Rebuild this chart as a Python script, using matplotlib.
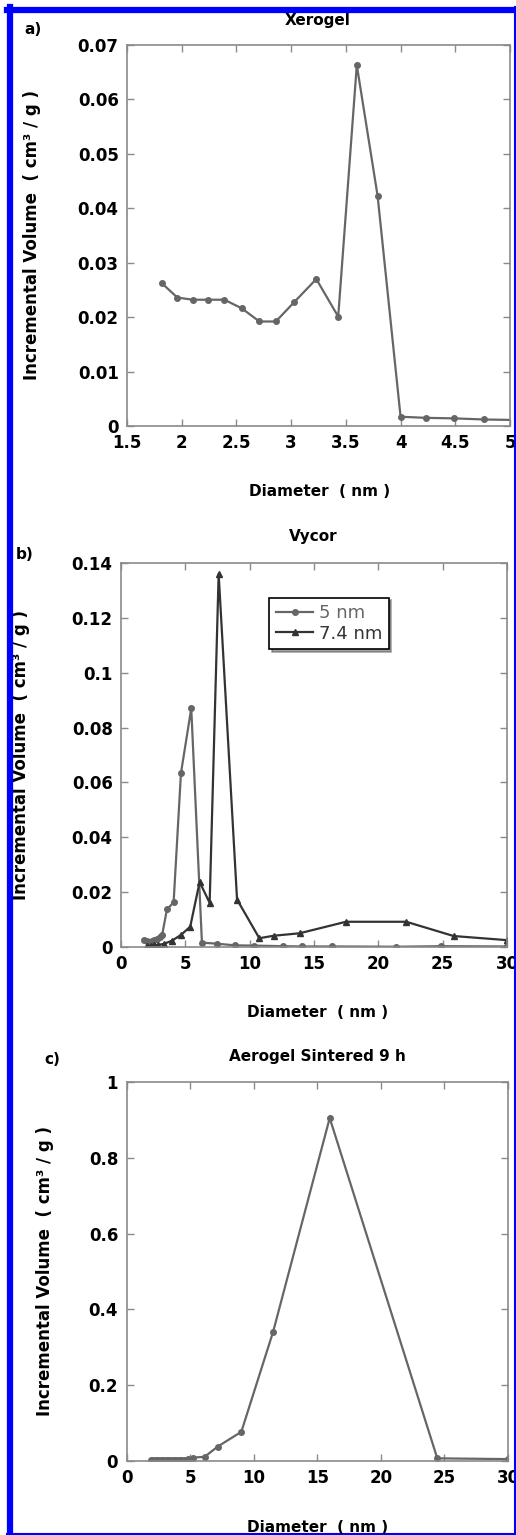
import matplotlib
matplotlib.use("Agg")
import matplotlib.pyplot as plt
from matplotlib.lines import Line2D
from matplotlib.ticker import FuncFormatter

# a) Xerogel
xero_d = [1.82, 1.96, 2.10, 2.24, 2.39, 2.55, 2.71, 2.86, 3.03, 3.23, 3.43, 3.60,
          3.79, 4.00, 4.23, 4.49, 4.76, 5.05]
xero_v = [0.0262, 0.0236, 0.0232, 0.0232, 0.0232, 0.0216, 0.0192, 0.0192, 0.0228,
          0.0270, 0.0201, 0.0663, 0.0423, 0.0017, 0.0015, 0.0014, 0.0012, 0.0011]

# b) Vycor
vy5_d = [1.8, 2.0, 2.2, 2.4, 2.6, 2.8, 3.0, 3.2, 3.57, 4.09, 4.66, 5.46, 6.29, 7.46,
         8.88, 10.36, 12.6, 14.1, 16.4, 21.4, 24.9, 30.0]
vy5_v = [0.0025, 0.0022, 0.0020, 0.0022, 0.0025, 0.0030, 0.0035, 0.0045, 0.0137,
         0.0163, 0.0634, 0.0870, 0.0016, 0.0012, 0.0006, 0.0005, 0.0003, 0.0002,
         0.0002, 0.0001, 0.0003, 0.0002]
vy74_d = [2.0, 2.3, 2.6, 2.9, 3.31, 3.96, 4.66, 5.38, 6.11, 6.89, 7.59, 9.02, 10.75,
          11.86, 13.88, 17.48, 22.17, 25.85, 30.0]
vy74_v = [0.0003, 0.0004, 0.0006, 0.0008, 0.0011, 0.0023, 0.0044, 0.0074, 0.0237,
          0.0161, 0.1360, 0.0173, 0.0032, 0.0041, 0.0050, 0.0092, 0.0092, 0.0040,
          0.0025]

# c) Aerogel sintered 9 h
aero_d = [1.9, 2.1, 2.3, 2.5, 2.7, 2.9, 3.1, 3.3, 3.5, 3.7, 3.9, 4.1, 4.3, 4.5, 4.8,
          5.23, 6.14, 7.17, 9.03, 11.53, 15.98, 24.44, 30.0]
aero_v = [0.002, 0.002, 0.002, 0.002, 0.002, 0.002, 0.002, 0.002, 0.002, 0.002,
          0.002, 0.002, 0.003, 0.003, 0.004, 0.009, 0.011, 0.038, 0.077, 0.341,
          0.905, 0.007, 0.005]

W, H = 516, 1535
fig = plt.figure(figsize=(W / 100, H / 100), dpi=100)
fig.patch.set_facecolor("white")

grey = "#666666"
dark = "#333333"
spine = "#8a8a8a"


def px_axes(left, top, right, bottom):
    return fig.add_axes([left / W, 1 - bottom / H, (right - left) / W, (bottom - top) / H])


def style(ax, xlim, ylim, xticks, yticks, ylab_x):
    ax.set_xlim(*xlim)
    ax.set_ylim(*ylim)
    ax.set_xticks(xticks)
    ax.set_yticks(yticks)
    fmt = FuncFormatter(lambda v, p: "%g" % round(v, 6))
    ax.xaxis.set_major_formatter(fmt)
    ax.yaxis.set_major_formatter(fmt)
    for s in ax.spines.values():
        s.set_color(spine)
        s.set_linewidth(1.2)
    ax.tick_params(direction="in", top=True, right=True, length=5, width=1,
                   color=spine, labelsize=12, pad=6)
    for lab in ax.get_xticklabels() + ax.get_yticklabels():
        lab.set_fontweight("bold")
    ax.set_ylabel("Incremental Volume  ( cm³ / g )", fontsize=12, fontweight="bold")
    ax.yaxis.set_label_coords(ylab_x, 0.5)


def label(x, y, s, size=11, **kw):
    fig.text(x / W, 1 - y / H, s, fontsize=size, fontweight="bold",
             ha="center", va="center", **kw)


# panel a
ax1 = px_axes(127, 45, 510, 426)
ax1.plot(xero_d, xero_v, color=grey, lw=1.6, marker="o", ms=4)
style(ax1, (1.5, 5), (0, 0.07), [1.5, 2, 2.5, 3, 3.5, 4, 4.5, 5],
      [0, 0.01, 0.02, 0.03, 0.04, 0.05, 0.06, 0.07], -0.225)
label(318, 20, "Xerogel")
label(33, 30, "a)")
label(320, 492, "Diameter  ( nm )")

# panel b
ax2 = px_axes(121, 563, 507, 947)
ax2.plot(vy5_d, vy5_v, color=grey, lw=1.6, marker="o", ms=4, label="5 nm")
ax2.plot(vy74_d, vy74_v, color=dark, lw=1.6, marker="^", ms=4, label="7.4 nm")
style(ax2, (0, 30), (0, 0.14), [0, 5, 10, 15, 20, 25, 30],
      [0, 0.02, 0.04, 0.06, 0.08, 0.1, 0.12, 0.14], -0.235)
leg = ax2.legend(loc="upper left", bbox_to_anchor=(0.384, 0.91), borderaxespad=0,
                 fontsize=13, frameon=True, fancybox=False, shadow=True,
                 handlelength=2.1, handletextpad=0.3, borderpad=0.35,
                 labelspacing=0.15, labelcolor="linecolor")
leg.get_frame().set_edgecolor("black")
leg.get_frame().set_linewidth(1.2)
label(313, 537, "Vycor")
label(25, 555, "b)")
label(318, 1012, "Diameter  ( nm )")

# panel c
ax3 = px_axes(126.5, 1082, 508, 1461)
ax3.plot(aero_d, aero_v, color=grey, lw=1.6, marker="o", ms=4)
style(ax3, (0, 30), (0, 1), [0, 5, 10, 15, 20, 25, 30],
      [0, 0.2, 0.4, 0.6, 0.8, 1], -0.19)
label(317, 1057, "Aerogel Sintered 9 h")
label(52, 1060, "c)")
label(318, 1527, "Diameter  ( nm )")

# blue frame
blue = "#0000ff"
fig.add_artist(Line2D([10 / W, 10 / W], [0, 1 - 7 / H], color=blue, lw=4.5,
                      transform=fig.transFigure))
fig.add_artist(Line2D([7 / W, 1], [1 - 10 / H, 1 - 10 / H], color=blue, lw=4.5,
                      transform=fig.transFigure))
fig.add_artist(Line2D([515 / W, 515 / W], [0, 1 - 7 / H], color=blue, lw=1.5,
                      transform=fig.transFigure))
fig.add_artist(Line2D([7 / W, 1], [1 - 1534 / H, 1 - 1534 / H], color=blue, lw=1.5,
                      transform=fig.transFigure))

fig.savefig("out.png", dpi=100)
